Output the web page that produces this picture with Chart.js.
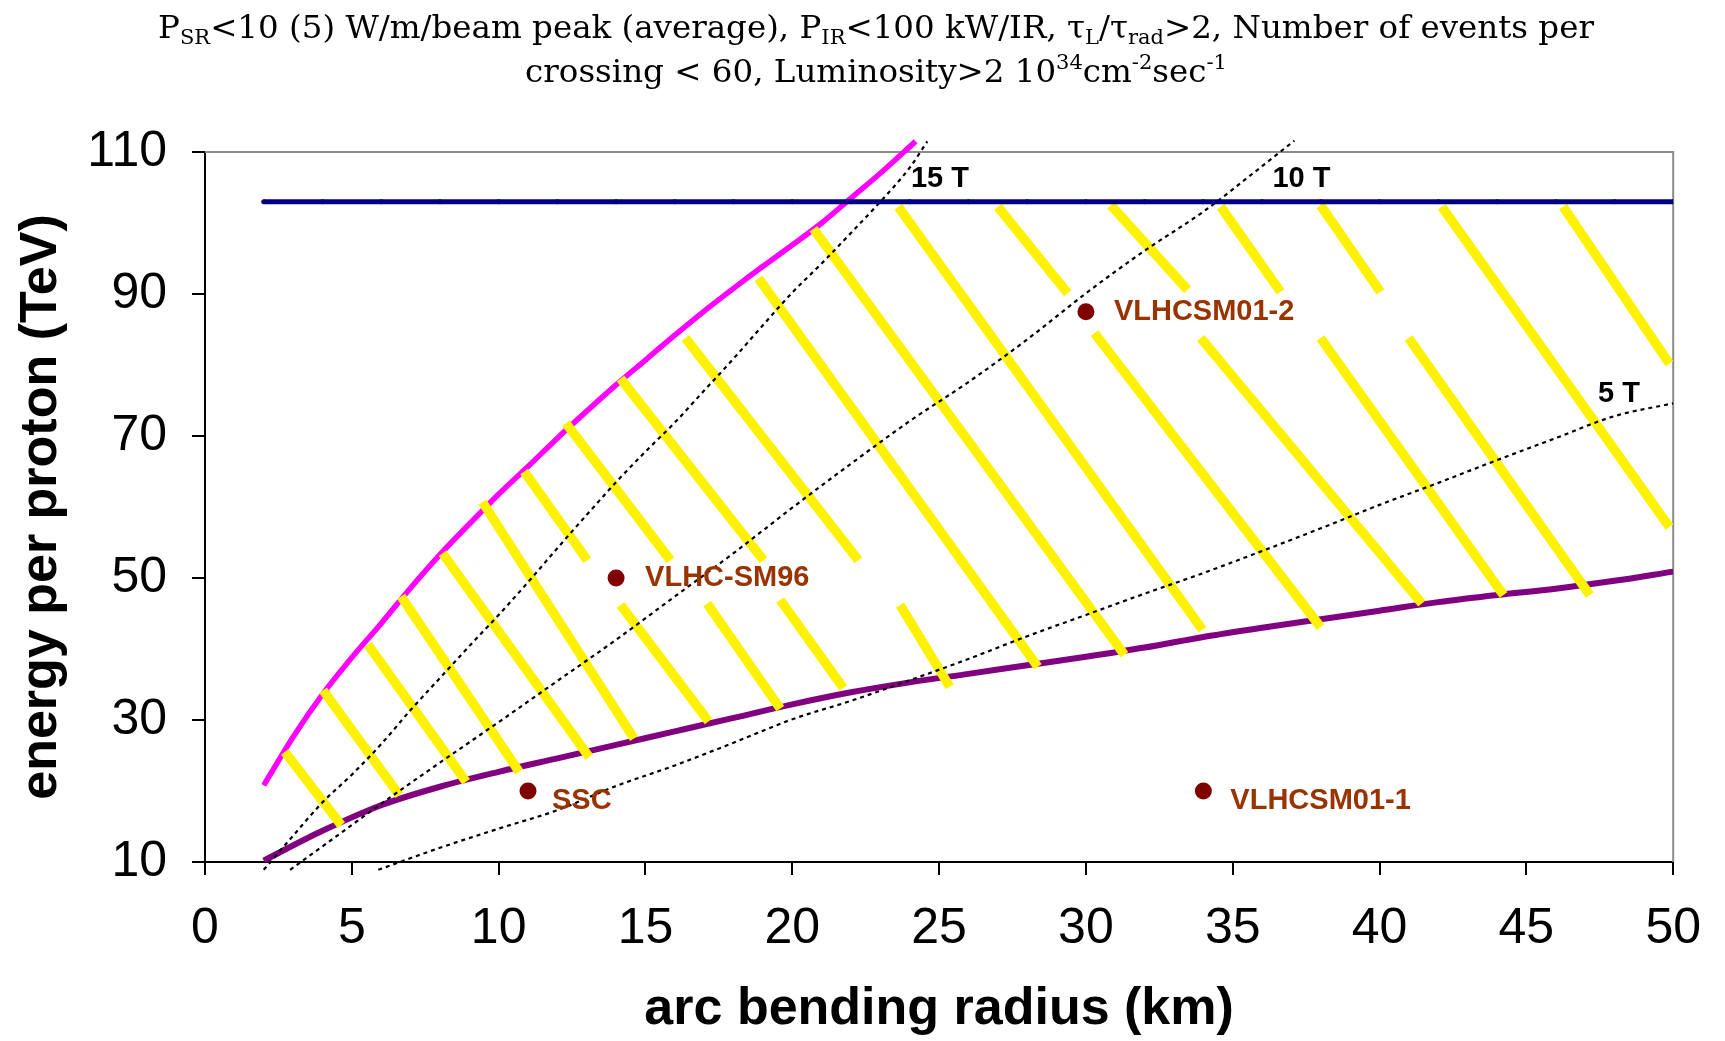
<!DOCTYPE html>
<html>
<head>
<meta charset="utf-8">
<title>energy per proton vs arc bending radius</title>
<script src="https://cdn.jsdelivr.net/npm/chart.js@4.4.1/dist/chart.umd.min.js"></script>
<style>
  html, body { margin: 0; padding: 0; background: #fff; }
  #wrap { width: 1725px; height: 1041px; }
</style>
</head>
<body>
<div id="wrap"><canvas id="grafico" width="1725" height="1041"></canvas></div>
<script>
// axis ticks
const radiusTicks = [0, 5, 10, 15, 20, 25, 30, 35, 40, 45, 50];
const energyTicks = [10, 30, 50, 70, 90, 110];

// magenta limit (upper edge of allowed region)
const upperR = [2, 3, 4, 5, 6, 7, 8, 9, 10, 11, 12, 13, 14, 15, 16, 17, 18, 19, 20, 21, 22, 23, 24.2];
const upperE = [20.8, 27.6, 33.6, 38.8, 43.6, 48.6, 53.3, 57.6, 61.8, 65.7, 69.7, 73.5, 77.2, 80.7, 84.2, 87.6, 90.8, 93.9, 96.9, 100.0, 103.5, 107.0, 111.5];

// purple limit (lower edge of allowed region)
const lowerR = [2, 4, 6, 8, 10, 12, 14, 16, 18, 20, 22, 24, 26, 28, 30, 32, 34, 36, 38, 40, 42, 44, 46, 48, 50];
const lowerE = [10.2, 14.4, 18.0, 20.6, 22.7, 24.6, 26.5, 28.4, 30.3, 32.2, 33.9, 35.3, 36.5, 37.7, 38.9, 40.2, 41.7, 43.0, 44.2, 45.4, 46.6, 47.6, 48.5, 49.6, 50.9];

// blue cap
const capR = [2, 4, 6, 8, 10, 12, 14, 16, 18, 20, 22, 24, 26, 28, 30, 32, 34, 36, 38, 40, 42, 44, 46, 48, 50];
const capE = [103, 103, 103, 103, 103, 103, 103, 103, 103, 103, 103, 103, 103, 103, 103, 103, 103, 103, 103, 103, 103, 103, 103, 103, 103];

// dipole field lines
const field15R = [2, 3, 4, 5, 6, 7, 8, 9, 10, 11, 12, 13, 14, 15, 16, 17, 18, 19, 20, 21, 22, 23, 24, 24.6];
const field15E = [8.9, 13.7, 18.4, 22.3, 26.6, 31.4, 35.9, 40.4, 44.8, 49.4, 54.2, 58.9, 63.5, 67.8, 71.9, 76.4, 80.9, 85.6, 90.2, 94.3, 98.6, 103.0, 107.8, 111.5];
const field10R = [2.9, 4, 6, 8, 10, 12, 14, 16, 18, 20, 22, 24, 26, 28, 30, 32, 34, 36, 37.1];
const field10E = [8.9, 12.2, 18.2, 24.0, 29.7, 35.5, 41.3, 47.4, 53.5, 59.9, 66.1, 72.1, 77.6, 83.6, 90.1, 96.1, 101.6, 108.0, 111.6];
const field5R = [5.9, 8, 10, 12, 14, 16, 18, 20, 22, 24, 26, 28, 30, 32, 34, 36, 38, 40, 42, 44, 46, 48, 50];
const field5E = [8.9, 12.0, 14.7, 17.3, 20.7, 23.6, 26.8, 30.1, 32.7, 35.6, 38.6, 41.8, 44.8, 47.8, 50.7, 53.8, 57.0, 60.3, 63.4, 66.6, 69.7, 72.8, 74.6];

// yellow hatching, each stroke from (R0,E0) to (R1,E1)
const hatchR0 = [2.72, 4.02, 5.55, 6.68, 8.09, 9.45, 10.87, 14.15, 12.29, 17.10, 14.15, 19.59, 16.36, 23.67, 18.85, 20.72, 23.61, 27.00, 30.29, 30.85, 33.91, 34.59, 37.99, 37.99, 40.99, 42.12, 46.25];
const hatchE0 = [25.5, 34.2, 40.6, 47.4, 53.5, 60.7, 65.0, 46.2, 71.8, 46.4, 78.1, 46.9, 83.8, 46.2, 92.2, 99.2, 102.3, 102.3, 84.5, 102.5, 83.8, 102.3, 83.8, 102.5, 83.8, 102.3, 102.3];
const hatchR1 = [4.64, 6.62, 8.89, 10.70, 13.08, 14.61, 13.02, 17.15, 15.85, 19.59, 19.02, 21.74, 22.25, 25.36, 28.36, 31.31, 33.97, 29.38, 37.99, 33.46, 41.44, 36.63, 44.22, 40.03, 47.16, 49.87, 49.87];
const hatchE1 = [15.2, 19.4, 21.3, 22.7, 24.8, 27.4, 52.5, 29.8, 52.5, 31.6, 52.5, 34.5, 52.5, 34.7, 37.5, 39.2, 42.7, 90.1, 43.1, 90.6, 46.4, 90.3, 47.6, 90.3, 47.6, 57.2, 80.2];

// machines
const machineNames = ['SSC', 'VLHC-SM96', 'VLHCSM01-2', 'VLHCSM01-1'];
const machineR = [11, 14, 30, 34];
const machineE = [20, 50, 87.5, 20];

// field tags (placed in data units)
const fieldTags = [
  { text: '15 T', r: 24.04, e: 106.2 },
  { text: '10 T', r: 36.35, e: 106.2 },
  { text: '5 T', r: 47.44, e: 75.9 }
];

const sans = '"Liberation Sans", Arial, sans-serif';

function pts(xs, ys) {
  return xs.map((v, i) => ({ x: v, y: ys[i] }));
}

const datasets = [];

datasets.push({
  data: pts(lowerR, lowerE),
  showLine: true, borderColor: '#800080', borderWidth: 6,
  cubicInterpolationMode: 'monotone', pointRadius: 0, order: 6
});
datasets.push({
  data: pts(upperR, upperE),
  showLine: true, borderColor: '#ff00ff', borderWidth: 5.5,
  cubicInterpolationMode: 'monotone', pointRadius: 0, clip: false, order: 6
});

hatchR0.forEach((r, i) => {
  datasets.push({
    data: [{ x: r, y: hatchE0[i] }, { x: hatchR1[i], y: hatchE1[i] }],
    showLine: true, borderColor: '#fff200', borderWidth: 9.5,
    borderCapStyle: 'butt', pointRadius: 0, order: 5
  });
});

[[field15R, field15E], [field10R, field10E], [field5R, field5E]].forEach(f => {
  datasets.push({
    data: pts(f[0], f[1]),
    showLine: true, borderColor: '#000', borderWidth: 2.2, borderDash: [4, 4],
    cubicInterpolationMode: 'monotone', pointRadius: 0, clip: false, order: 4
  });
});

datasets.push({
  data: pts(capR, capE),
  showLine: true, borderColor: '#000080', borderWidth: 5,
  pointRadius: 2.5, pointBackgroundColor: '#000080', pointBorderWidth: 0, order: 3
});

datasets.push({
  data: pts(machineR, machineE),
  showLine: false, pointRadius: 8.5, pointBackgroundColor: '#800000',
  pointBorderWidth: 0, order: 1
});

// title with sub/superscripts
const titleLines = [
  [['P', ''], ['SR', 'sub'], ['<10 (5) W/m/beam peak (average), P', ''], ['IR', 'sub'],
   ['<100 kW/IR, \u03c4', ''], ['L', 'sub'], ['/\u03c4', ''], ['rad', 'sub'], ['>2, Number of events per', '']],
  [['crossing < 60, Luminosity>2 10', ''], ['34', 'sup'], ['cm', ''], ['-2', 'sup'], ['sec', ''], ['-1', 'sup']]
];

const titlePlugin = {
  id: 'titlePlugin',
  afterDraw(chart) {
    const ctx = chart.ctx;
    const big = 32.5, small = 21;
    const cx = 876;
    const baselines = [38, 82];
    ctx.save();
    ctx.fillStyle = '#000';
    ctx.textBaseline = 'alphabetic';
    ctx.textAlign = 'left';
    titleLines.forEach((line, li) => {
      let w = 0;
      line.forEach(p => {
        ctx.font = (p[1] ? small : big) + 'px "DejaVu Serif", serif';
        w += ctx.measureText(p[0]).width;
      });
      let x = cx - w / 2;
      line.forEach(p => {
        ctx.font = (p[1] ? small : big) + 'px "DejaVu Serif", serif';
        let dy = 0;
        if (p[1] === 'sub') dy = 6;
        if (p[1] === 'sup') dy = -13;
        ctx.fillText(p[0], x, baselines[li] + dy);
        x += ctx.measureText(p[0]).width;
      });
    });
    ctx.restore();
  }
};

const notesPlugin = {
  id: 'notesPlugin',
  beforeDatasetsDraw(chart) {
    const { ctx, chartArea: a } = chart;
    ctx.save();
    ctx.strokeStyle = '#8c8c8c';
    ctx.lineWidth = 2;
    ctx.beginPath();
    ctx.moveTo(a.left, a.top);
    ctx.lineTo(a.right, a.top);
    ctx.lineTo(a.right, a.bottom);
    ctx.stroke();
    ctx.restore();
  },
  afterDatasetsDraw(chart) {
    const { ctx, scales: { x, y } } = chart;
    const shift = [[24, 10], [29, 0], [28, 0], [27, 10]];
    ctx.save();
    ctx.font = 'bold 29px ' + sans;
    ctx.textBaseline = 'middle';
    ctx.textAlign = 'left';
    ctx.fillStyle = '#000';
    fieldTags.forEach(t => ctx.fillText(t.text, x.getPixelForValue(t.r), y.getPixelForValue(t.e)));
    ctx.fillStyle = '#993300';
    machineNames.forEach((n, i) => {
      ctx.fillText(n, x.getPixelForValue(machineR[i]) + shift[i][0], y.getPixelForValue(machineE[i]) + shift[i][1]);
    });
    ctx.restore();
  }
};

const grafico = new Chart(document.getElementById('grafico'), {
  type: 'scatter',
  data: { datasets: datasets },
  options: {
    responsive: false,
    animation: false,
    events: [],
    layout: { padding: { left: 0, top: 152, right: 48, bottom: 0 } },
    plugins: {
      legend: { display: false },
      tooltip: { enabled: false }
    },
    elements: { line: { tension: 0 } },
    scales: {
      x: {
        type: 'linear', min: 0, max: 50,
        afterBuildTicks: s => { s.ticks = radiusTicks.map(v => ({ value: v })); },
        afterFit: s => { s.height = 179; },
        border: { color: '#000', width: 2 },
        grid: { drawOnChartArea: false, drawTicks: true, tickLength: 13, color: '#000', lineWidth: 2 },
        ticks: { color: '#000', padding: 24, maxRotation: 0, font: { family: sans, size: 50 } },
        title: {
          display: true, text: 'arc bending radius (km)', color: '#000',
          padding: { top: 0, bottom: 5 },
          font: { family: sans, size: 52, weight: 'bold', lineHeight: 1 }
        }
      },
      y: {
        type: 'linear', min: 10, max: 110,
        afterBuildTicks: s => { s.ticks = energyTicks.map(v => ({ value: v })); },
        afterFit: s => { s.width = 205; },
        border: { color: '#000', width: 2 },
        grid: { drawOnChartArea: false, drawTicks: true, tickLength: 13, color: '#000', lineWidth: 2 },
        ticks: { color: '#000', padding: 25, font: { family: sans, size: 50 } },
        title: {
          display: true, text: 'energy per proton (TeV)', color: '#000',
          padding: { top: 16, bottom: 0 },
          font: { family: sans, size: 52, weight: 'bold', lineHeight: 1 }
        }
      }
    }
  },
  plugins: [titlePlugin, notesPlugin]
});
</script>
</body>
</html>
